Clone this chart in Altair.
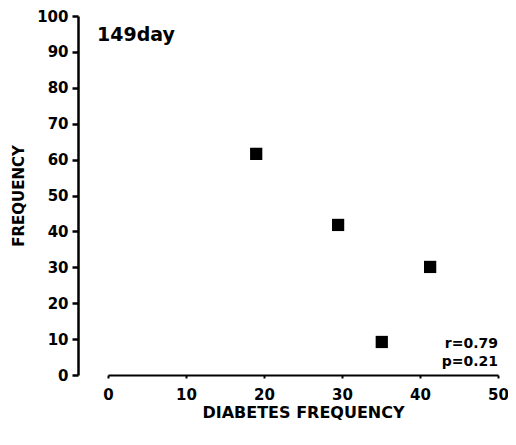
import altair as alt
import pandas as pd

diabetes_freq = [19.0, 29.5, 35.1, 41.3]
frequency = [61.6, 41.8, 9.2, 30.1]

x_ticks = [0, 10, 20, 30, 40, 50]
y_ticks = [0, 10, 20, 30, 40, 50, 60, 70, 80, 90, 100]

df = pd.DataFrame({"x": diabetes_freq, "y": frequency})

FONT = "DejaVu Sans"

points = alt.Chart(df).mark_square(size=150, color="black", opacity=1, cornerRadius=2).encode(
    x=alt.X("x:Q", title="DIABETES FREQUENCY",
            scale=alt.Scale(domain=[0, 50], nice=False, zero=False),
            axis=alt.Axis(values=x_ticks, grid=False, domainColor="black", domainWidth=2.2,
                          tickColor="black", tickSize=3, tickWidth=2, labelFlush=False,
                          labelFont=FONT, labelFontWeight="bold", labelFontSize=15,
                          labelColor="black", labelPadding=9,
                          titleFont=FONT, titleFontWeight="bold", titleFontSize=16,
                          titleColor="black", titlePadding=2)),
    y=alt.Y("y:Q", title="FREQUENCY",
            scale=alt.Scale(domain=[0, 100], nice=False),
            axis=alt.Axis(values=y_ticks, grid=False, offset=30, domainColor="black", domainWidth=2.5,
                          tickColor="black", tickSize=6, tickWidth=2.5,
                          labelFont=FONT, labelFontWeight="bold", labelFontSize=15,
                          labelColor="black", labelPadding=4,
                          titleFont=FONT, titleFontWeight="bold", titleFontSize=15,
                          titleColor="black", titlePadding=10)),
)

label = alt.Chart(pd.DataFrame({"t": ["149day"]})).mark_text(
    font=FONT, fontWeight="bold", fontSize=19, align="left", baseline="alphabetic", color="black"
).encode(text="t:N", x=alt.value(-11), y=alt.value(25))

stats = alt.Chart(pd.DataFrame({"t": ["r=0.79", "p=0.21"], "py": [332, 350]})).mark_text(
    font=FONT, fontWeight="bold", fontSize=14, align="right", baseline="alphabetic", color="black"
).encode(text="t:N", x=alt.value(390), y=alt.Y("py:Q", scale=None))

chart = (points + label + stats).properties(
    width=390, height=359,
    autosize=alt.AutoSizeParams(type="none"),
    padding={"left": 100, "top": 8, "right": 10, "bottom": 50},
).configure_view(stroke=None)

chart.save("out.html", embed_options={"renderer": "svg", "actions": False})
